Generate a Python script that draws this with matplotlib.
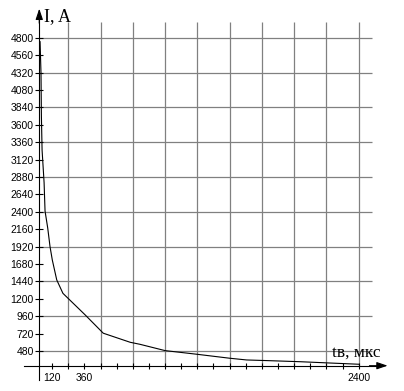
import numpy as np
import matplotlib
matplotlib.use("Agg")
import matplotlib.pyplot as plt

# current decay curve
t_us = [30, 37, 40, 45, 60, 67, 87, 104, 121, 154, 200, 364, 500, 700, 773,
        960, 1195, 1440, 1567, 1690, 1963, 2186, 2400]
i_amp = [4745, 4310, 3710, 3250, 2800, 2410, 2175, 1920, 1735, 1460, 1275, 980,
         725, 600, 572, 485, 435, 380, 356, 349, 332, 314, 297]

y_ticks = list(range(480, 4801, 240))
x_ticks = list(range(120, 2401, 120))
x_labels = {120: "120", 360: "360", 2400: "2400"}
x_grid = list(range(240, 2401, 240))
y_grid = list(range(480, 4801, 480))

# axes cross point and extents (data units)
Y_AXIS_X = 24
X_AXIS_Y = 277

fig = plt.figure(figsize=(4.04, 3.91), dpi=100)
ax = fig.add_axes([0, 0, 1, 1])
ax.set_xlim(-268, 2737)
ax.set_ylim(-72, 5320)

grid_col = "#808080"
ax.vlines(x_grid, X_AXIS_Y, 5021, color=grid_col, lw=0.9, zorder=1)
ax.hlines(y_grid, Y_AXIS_X, 2497, color=grid_col, lw=0.9, zorder=1)

ax.plot(t_us, i_amp, color="black", lw=0.8, zorder=3)

for s in ["top", "right"]:
    ax.spines[s].set_visible(False)
ax.spines["left"].set_position(("data", Y_AXIS_X))
ax.spines["bottom"].set_position(("data", X_AXIS_Y))
ax.spines["left"].set_bounds(80, 5100)
ax.spines["bottom"].set_bounds(-89, 2540)
for s in ["left", "bottom"]:
    ax.spines[s].set_linewidth(0.8)
    ax.spines[s].set_zorder(4)

# arrow heads
arr = dict(arrowstyle="-|>,head_length=0.65,head_width=0.22", color="black",
           lw=0.8, shrinkA=0, shrinkB=0)
ax.annotate("", xy=(Y_AXIS_X, 5200), xytext=(Y_AXIS_X, 5000), arrowprops=arr)
ax.annotate("", xy=(2615, X_AXIS_Y), xytext=(2480, X_AXIS_Y), arrowprops=arr)

ax.set_yticks(y_ticks)
ax.set_yticklabels([str(v) for v in y_ticks])
ax.set_xticks(x_ticks)
ax.set_xticklabels([x_labels.get(v, "") for v in x_ticks])
ax.tick_params(axis="y", direction="inout", length=6, width=0.8, pad=1,
               labelsize=7.5)
ax.tick_params(axis="x", direction="inout", length=4, width=0.8, pad=3,
               labelsize=7.5)
for lab in ax.get_xticklabels() + ax.get_yticklabels():
    lab.set_family("Liberation Sans")

ax.text(58, 5035, "I, A", family="Liberation Serif", fontsize=13,
        ha="left", va="baseline")
ax.text(2205, 400, "tв, мкс", family="Liberation Serif", fontsize=12.5,
        ha="left", va="baseline")

fig.savefig("out.png", dpi=100)
